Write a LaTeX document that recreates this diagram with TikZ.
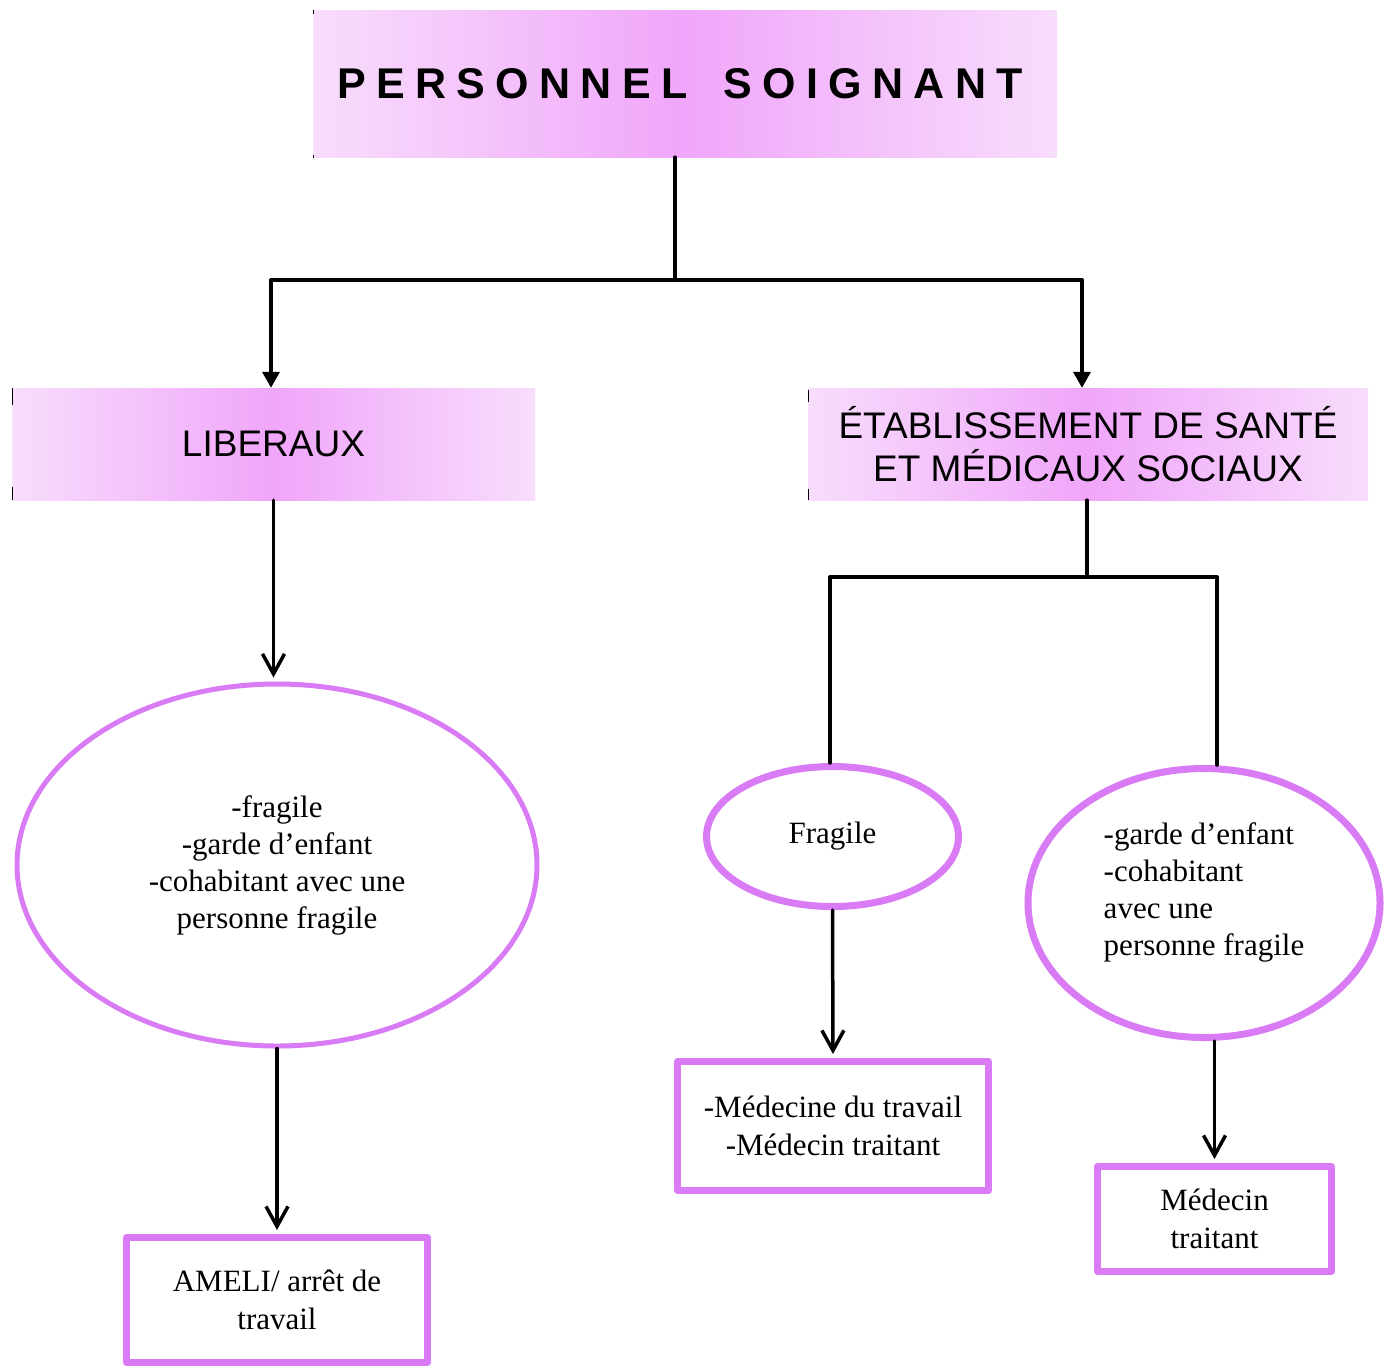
\documentclass[tikz,border=0pt]{standalone}
\usepackage{fontspec}
\setmainfont{Liberation Serif}
\newfontfamily\arialfont{Liberation Sans}
\newfontfamily\titlefont[LetterSpace=24]{Liberation Sans}
\usetikzlibrary{shapes.geometric,arrows.meta}
\definecolor{bandedge}{HTML}{F8DDFC}
\definecolor{bandmid}{HTML}{F0A6FA}
\definecolor{mauve}{HTML}{DA7BF6}
\begin{document}
\begin{tikzpicture}[x=1pt,y=-1pt, line join=round, line cap=round,
	banner/.style={rectangle, inner sep=0, left color=bandedge, right color=bandedge, middle color=bandmid, font=\arialfont\fontsize{37}{43}\selectfont, align=center},
	oval/.style={ellipse, draw=mauve, inner sep=0, align=center, font=\fontsize{31}{37}\selectfont},
	answer/.style={rectangle, draw=mauve, line width=7pt, inner sep=0, align=center, font=\fontsize{31}{38}\selectfont},
	link/.style={line width=3.5pt},
	tri/.style={link, -{Triangle[length=16pt,width=17pt]}},
	barb/.style={link, shorten >=4pt, -{Straight Barb[length=20pt,width=22pt]}}]
		\useasboundingbox (0,0) rectangle (1386,1366);
		% bandeaux
		\node[banner, minimum width=744pt, minimum height=147pt] (title) at (685,83.5) {\titlefont\fontsize{43}{50}\selectfont\bfseries PERSONNEL\hspace{14pt} SOIGNANT\hspace{10pt}};
		\node[banner, minimum width=523pt, minimum height=112pt] (lib) at (273.5,444) {LIBERAUX};
		\node[banner, minimum width=560pt, minimum height=112pt] (etab) at (1088,444) {ÉTABLISSEMENT DE SANTÉ\\ET MÉDICAUX SOCIAUX};
		\foreach \x/\a/\b in {313/10/14, 313/155/158, 12/388/405, 12/487/500, 808/390/402, 808/489/500}
			\draw[line width=1pt, line cap=butt] (\x,\a) -- (\x,\b);
		% ellipses
		\node[oval, line width=5pt, minimum width=520pt, minimum height=362pt] (fra1) at (277,865) {-fragile\\-garde d’enfant\\-cohabitant avec une\\personne fragile};
		\node[oval, line width=7pt, minimum width=252pt, minimum height=140pt] (fra2) at (832.5,836.5) {Fragile};
		\node[oval, line width=7pt, minimum width=352pt, minimum height=269pt, align=left] (fra3) at (1204,903) {-garde d’enfant\\-cohabitant\\avec une\\personne fragile\\[-10pt]};
		% cadres
		\node[answer, minimum width=301pt, minimum height=125pt] (ameli) at (277,1300) {AMELI/ arrêt de\\travail};
		\node[answer, minimum width=311pt, minimum height=129pt] (medt) at (833,1126) {-Médecine du travail\\-Médecin traitant};
		\node[answer, minimum width=234pt, minimum height=105pt] (medc) at (1214.5,1219) {Médecin\\traitant};
		% liaisons
		\coordinate (jt) at (675,280);
		\coordinate (jl) at (271,280);
		\coordinate (jr) at (1082,280);
		\draw[link] (title.south -| jt) -- (jt);
		\draw[link] (jl) -- (jr);
		\draw[tri] (jl) -- (jl |- lib.north);
		\draw[tri] (jr) -- (jr |- etab.north);
		\draw[barb] (lib.south) -- (lib.south |- fra1.north);
		\draw[barb] (fra1.south) -- (ameli.north);
		\coordinate (jm) at (1087,577);
		\coordinate (jml) at (830,577);
		\coordinate (jmr) at (1217,577);
		\draw[link] (etab.south -| jm) -- (jm);
		\draw[link] (jml) -- (jmr);
		\draw[link] (jml) -- (jml |- fra2.north);
		\draw[link] (jmr) -- (jmr |- fra3.north);
		\draw[barb] (fra2.south) -- (medt.north);
		\draw[barb] (medc.north |- fra3.south) -- (medc.north);
\end{tikzpicture}
\end{document}
